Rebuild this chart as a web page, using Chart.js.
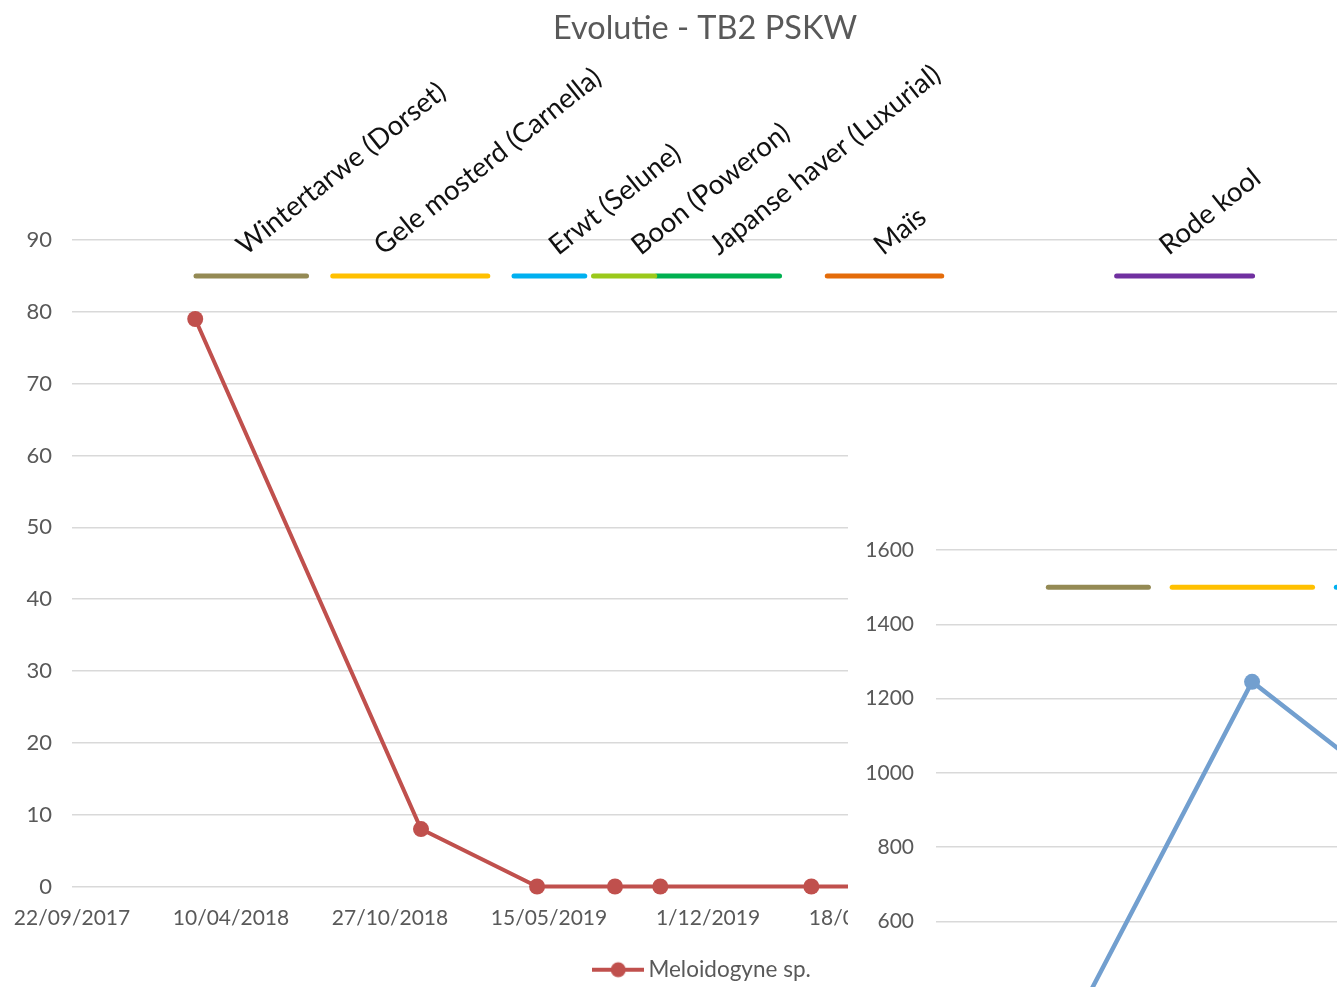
<!DOCTYPE html>
<html>
<head>
<meta charset="utf-8">
<title>Evolutie - TB2 PSKW</title>
<script src="https://cdn.jsdelivr.net/npm/chart.js@4.4.1/dist/chart.umd.min.js"></script>
<style>
  html, body { margin: 0; padding: 0; background: #fff; overflow: hidden; }
  #wrap { position: relative; width: 1337px; height: 987px; overflow: hidden; background: #fff; }
  #mainBox { position: absolute; left: 0; top: 0; }
  #insetBox { position: absolute; left: 848px; top: 420px; background: #fff; }
</style>
</head>
<body>
<div id="wrap">
  <div id="mainBox"><canvas id="main" width="1410" height="1000"></canvas></div>
  <div id="insetBox"><canvas id="inset" width="1300" height="900"></canvas></div>
</div>
<script>
// ---- data -------------------------------------------------------------
const chartTitle = 'Evolutie - TB2 PSKW';
const axisStart = '22/09/2017';
const xTickLabels = ['22/09/2017', '10/04/2018', '27/10/2018', '15/05/2019', '1/12/2019',
                     '18/06/2020', '4/01/2021', '23/07/2021', '8/02/2022'];

const seriesName = 'Meloidogyne sp.';
const sampleDates = ['24/02/2018', '5/12/2018', '30/04/2019', '6/08/2019', '2/10/2019', '9/04/2020', '15/10/2020'];
const meloidogyne = [79, 8, 0, 0, 0, 0, 0];

const secondDates = ['24/02/2018', '5/12/2018', '30/04/2019'];
const secondValues = [190, 1245, 1025];

const cropNames = ['Wintertarwe (Dorset)', 'Gele mosterd (Carnella)', 'Erwt (Selune)', 'Boon (Poweron)',
                   'Japanse haver (Luxurial)', 'Maïs', 'Rode kool'];
const cropStart = ['25/02/2018', '16/08/2018', '1/04/2019', '10/07/2019', '27/09/2019', '29/04/2020', '28/04/2021'];
const cropEnd   = ['14/07/2018', '27/02/2019', '29/06/2019', '25/09/2019', '29/02/2020', '20/09/2020', '16/10/2021'];
const cropLabelAt = ['21/04/2018', '11/10/2018', '19/05/2019', '31/08/2019', '7/12/2019', '1/07/2020', '25/06/2021'];
const cropLevelMain = 85;
const cropLevelInset = 1500;

// ---- styling ----------------------------------------------------------
const cropColors = ['#948a54', '#ffc000', '#00b0f0', '#9bc91b', '#00b050', '#e46c0a', '#7030a0'];
const FONT = "Lato, 'Open Sans', sans-serif";
const GREY = '#595959';
const GRID = '#d9d9d9';
const RED = '#c0504d';
const BLUE = '#729fcf';

// ---- date helpers (x values are days since the axis start) ------------
function toUTC(s) { const p = s.split('/').map(Number); return Date.UTC(p[2], p[1] - 1, p[0]); }
const DAY0 = toUTC(axisStart);
function dayOf(s) { return Math.round((toUTC(s) - DAY0) / 86400000); }
const tickDays = xTickLabels.map(dayOf);

function xAxis(fontSize, padRight, height) {
  return {
    type: 'linear',
    min: tickDays[0],
    max: tickDays[tickDays.length - 1],
    afterBuildTicks: s => { s.ticks = tickDays.map(v => ({ value: v })); },
    afterFit: s => { s.height = height; s.paddingLeft = 0; s.paddingRight = padRight; },
    ticks: {
      autoSkip: false, maxRotation: 0, minRotation: 0,
      color: GREY, padding: 19,
      font: { family: FONT, size: fontSize },
      callback: v => { const i = tickDays.indexOf(v); return i >= 0 ? xTickLabels[i] : ''; }
    },
    grid: { display: false, drawTicks: false },
    border: { display: false }
  };
}

function cropDatasets(level) {
  return cropNames.map((name, i) => ({
    label: name,
    data: [{ x: dayOf(cropStart[i]), y: level }, { x: dayOf(cropEnd[i]), y: level }],
    borderColor: cropColors[i],
    borderWidth: 5,
    borderCapStyle: 'round',
    pointRadius: 0,
    pointHoverRadius: 0,
    showLine: true,
    fill: false
  }));
}

// legend symbol: a short line with a round marker
function legendSymbol(color) {
  const c = document.createElement('canvas');
  c.width = 52; c.height = 18;
  const g = c.getContext('2d');
  g.strokeStyle = color; g.lineWidth = 4;
  g.beginPath(); g.moveTo(0, 9); g.lineTo(52, 9); g.stroke();
  g.fillStyle = color;
  g.beginPath(); g.arc(26, 9, 7.5, 0, Math.PI * 2); g.fill();
  return c;
}

// rotated crop names above the crop bars
const cropLabelPlugin = {
  id: 'cropLabels',
  afterDatasetsDraw(chart) {
    const { ctx, scales } = chart;
    const yBase = scales.y.getPixelForValue(cropLevelMain) - 20;
    ctx.save();
    ctx.font = '27.5px ' + FONT;
    ctx.fillStyle = '#111';
    ctx.textAlign = 'left';
    ctx.textBaseline = 'alphabetic';
    cropNames.forEach((name, i) => {
      const x = scales.x.getPixelForValue(dayOf(cropLabelAt[i])) + 6;
      ctx.save();
      ctx.translate(x, yBase);
      ctx.rotate(-38.5 * Math.PI / 180);
      ctx.fillText(name, 0, 0);
      ctx.restore();
    });
    ctx.restore();
  }
};

function yAxis(max, step, fontSize, pad, width) {
  return {
    min: 0, max: max,
    ticks: { stepSize: step, color: GREY, padding: pad, font: { family: FONT, size: fontSize },
             callback: v => String(v) },
    grid: { color: GRID, lineWidth: 1.5, drawTicks: false },
    border: { display: false },
    afterFit: s => { s.width = width; }
  };
}

function draw() {
  Chart.defaults.font.family = FONT;

  // main chart
  new Chart(document.getElementById('main'), {
    type: 'scatter',
    data: {
      datasets: [{
        label: seriesName,
        data: sampleDates.map((d, i) => ({ x: dayOf(d), y: meloidogyne[i] })),
        showLine: true,
        clip: { left: 10, top: 10, right: 0, bottom: 12 },
        borderColor: RED,
        backgroundColor: RED,
        borderWidth: 4,
        pointRadius: 8,
        pointBorderWidth: 0,
        pointBackgroundColor: RED,
        fill: false
      }].concat(cropDatasets(cropLevelMain))
    },
    options: {
      responsive: false,
      animation: false,
      events: [],
      layout: { padding: { top: 0, right: 0, bottom: 9, left: 0 } },
      plugins: {
        title: {
          display: true, text: chartTitle, color: GREY,
          font: { family: FONT, size: 32.5, weight: 'normal', lineHeight: 1.2 },
          padding: { top: 9, bottom: 192 }
        },
        legend: {
          display: true, position: 'bottom',
          labels: {
            filter: item => item.datasetIndex === 0,
            usePointStyle: true,
            pointStyle: legendSymbol(RED),
            pointStyleWidth: 38,
            color: GREY, padding: 10,
            font: { family: FONT, size: 22.5 }
          }
        },
        tooltip: { enabled: false }
      },
      scales: {
        x: xAxis(21, 66, 62),
        y: yAxis(90, 10, 22, 20, 72)
      }
    },
    plugins: [cropLabelPlugin]
  });

  // second chart, laid over the lower right
  new Chart(document.getElementById('inset'), {
    type: 'scatter',
    data: {
      datasets: [{
        label: 'tweede reeks',
        data: secondDates.map((d, i) => ({ x: dayOf(d), y: secondValues[i] })),
        showLine: true,
        borderColor: BLUE,
        backgroundColor: BLUE,
        borderWidth: 4.5,
        pointRadius: 8,
        pointBorderWidth: 0,
        pointBackgroundColor: BLUE,
        fill: false
      }].concat(cropDatasets(cropLevelInset))
    },
    options: {
      responsive: false,
      animation: false,
      events: [],
      layout: { padding: { top: 130, right: 0, bottom: 0, left: 0 } },
      plugins: { title: { display: false }, legend: { display: false }, tooltip: { enabled: false } },
      scales: {
        x: xAxis(21, 60, 176),
        y: yAxis(1600, 200, 21, 22, 88)
      }
    }
  });
}

if (document.fonts && document.fonts.load) {
  Promise.all([document.fonts.load('22px Lato'), document.fonts.load('33px Lato')]).then(draw, draw);
} else {
  draw();
}
</script>
</body>
</html>
